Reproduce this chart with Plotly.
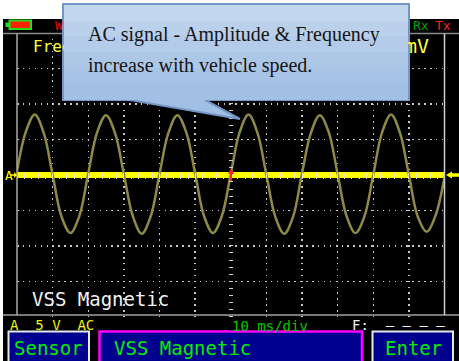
import plotly.graph_objects as go

# ---------------- data ----------------
time_ms = [0, 2.5, 5, 7.5, 10, 12.5, 15, 17.5,
           20, 22.5, 25, 27.5, 30, 32.5, 35, 37.5,
           40, 42.5, 45, 47.5, 50, 52.5, 55, 57.5,
           60, 62.5, 65, 67.5, 70, 72.5, 75, 77.5,
           80, 82.5, 85, 87.5, 90, 92.5, 95, 97.5,
           100, 102.5, 105, 107.5, 110, 112.5, 115, 117.5, 120]
volts = [0.5, 6.1, 8.5, 5.9, 0.0, -5.9, -8.2, -5.8,
         0.2, 6.0, 8.4, 5.9, 0.1, -5.8, -8.3, -5.9,
         0.1, 5.9, 8.4, 6.0, 0.2, -5.8, -8.2, -5.8,
         0.1, 6.0, 8.5, 5.9, 0.0, -5.9, -8.3, -5.9,
         0.2, 5.9, 8.4, 6.0, 0.1, -5.8, -8.2, -5.9,
         0.0, 6.0, 8.5, 5.9, 0.0, -5.9, -8.0, -5.7, -0.3]

time_grid = [10, 20, 30, 40, 50, 70, 80, 90, 100, 110]   # ms (10 ms/div)
volt_grid = [-15, -10, -5, 5, 10, 15]                    # V  (5 V/div)

callout_lines = ["AC signal - Amplitude & Frequency", "increase with vehicle speed."]
status_range = "A  5 V  AC"
status_time = "10 ms/div"
status_freq = "F:  – – – –"
trace_label = "VSS Magnetic"
buttons = ["Sensor", "VSS Magnetic", "Enter"]

# ---------------- layout helpers ----------------
W, H = 459, 361
def fx(x): return x / W
def fy(y): return 1 - y / H
def path(points):
    s = "M" + " L".join(f"{fx(x):.5f},{fy(y):.5f}" for x, y in points) + " Z"
    return s

MONO = "DejaVu Sans Mono"
SERIF = "Liberation Serif"

fig = go.Figure()
fig.add_trace(go.Scatter(x=time_ms, y=volts, mode="lines",
                         line=dict(color="#8e8a46", width=2.5, shape="spline", smoothing=1.0),
                         showlegend=False, hoverinfo="skip"))
fig.add_trace(go.Scatter(x=[None], y=[None], xaxis="x2", yaxis="y2",
                         showlegend=False, hoverinfo="skip"))

shapes = []
def rect(x0, y0, x1, y1, fill, line=None, lw=0, layer="below"):
    shapes.append(dict(type="rect", xref="paper", yref="paper",
                       x0=fx(x0), x1=fx(x1), y0=fy(y1), y1=fy(y0),
                       fillcolor=fill, line=dict(color=line or fill, width=lw), layer=layer))
def hline(y, x0, x1, color, w):
    shapes.append(dict(type="line", xref="paper", yref="paper", x0=fx(x0), x1=fx(x1),
                       y0=fy(y), y1=fy(y), line=dict(color=color, width=w), layer="above"))
def vline(x, y0, y1, color, w):
    shapes.append(dict(type="line", xref="paper", yref="paper", x0=fx(x), x1=fx(x),
                       y0=fy(y0), y1=fy(y1), line=dict(color=color, width=w), layer="above"))

# scope black body
rect(3, 19, 459, 361, "#000000")
# frame lines
hline(33.5, 3, 459, "#8c8c8c", 1.5)
hline(315, 3, 459, "#a0a0a0", 1.5)
vline(17, 33.5, 315, "#a8a8a8", 1.5)
vline(444.5, 33.5, 315, "#cfcfcf", 1.5)
# battery icon
rect(5.5, 22.5, 9.5, 27, "#22dd22", layer="above")
rect(9.5, 20.5, 31, 29, "#ff2200", "#22dd22", 2, layer="above")
# trigger marker (red up arrow) and right level marker
shapes.append(dict(type="path", xref="paper", yref="paper", layer="above",
                   path=path([(228, 174), (231, 168.5), (234, 174), (232, 174), (232, 181), (230, 181), (230, 174)]),
                   fillcolor="#ff2020", line=dict(width=0)))
shapes.append(dict(type="path", xref="paper", yref="paper", layer="above",
                   path=path([(446, 175), (452, 171.5), (452, 173.2), (459, 173.2), (459, 176.8), (452, 176.8), (452, 178.5)]),
                   fillcolor="#ffff00", line=dict(width=0)))
# left level marker arrow (after the "A")
shapes.append(dict(type="path", xref="paper", yref="paper", layer="above",
                   path=path([(10.5, 174.2), (14, 174.2), (14, 172), (17, 175), (14, 178), (14, 175.8), (10.5, 175.8)]),
                   fillcolor="#ffff00", line=dict(width=0)))
# buttons
rect(8.5, 331.5, 89, 366, "#00008f", "#e8e8e8", 2, layer="above")
rect(99.5, 331.5, 362, 366, "#00008f", "#ff00ff", 2.5, layer="above")
rect(372.5, 331.5, 453, 366, "#00008f", "#e8e8e8", 2, layer="above")
# callout outline with pointer
shapes.append(dict(type="path", xref="paper", yref="paper", layer="above",
                   path=path([(63, 4), (409, 4), (409, 100), (205, 100), (240, 119), (130, 100), (63, 100)]),
                   fillcolor="#a2c0e3", line=dict(color="#7497c6", width=2)))

annotations = []
def txt(text, x, y, size, color, xanchor="left", family=MONO):
    annotations.append(dict(text=text, xref="paper", yref="paper", x=fx(x), y=fy(y),
                            xanchor=xanchor, yanchor="middle", showarrow=False,
                            font=dict(family=family, size=size, color=color)))

# texts that sit under the callout
txt("W", 53, 25, 13, "#e01010")
txt("Rx", 411, 25.5, 13, "#00a000")
txt("Tx", 432.5, 25.5, 13, "#ff2020")
txt("Freq", 31, 46, 16, "#ffff40")
txt("mV", 431, 45.5, 20, "#ffff40", xanchor="right")

# callout body as gradient bands (covers the texts beneath)
band_cols = ["#c2d6ee", "#bbd1eb", "#b4cce9", "#adc7e7", "#a7c3e5", "#a2c0e3"]
top, bot = 5.2, 98.8
bh = (bot - top) / len(band_cols)
for i, c in enumerate(band_cols):
    annotations.append(dict(text=" ", xref="paper", yref="paper",
                            x=fx(64.2), y=fy(top + i * bh), xanchor="left", yanchor="top",
                            width=407.8 - 64.2, height=bh + 1, bgcolor=c,
                            borderwidth=0, borderpad=0, showarrow=False))
txt(callout_lines[0], 85.5, 35, 20, "#151515", family=SERIF)
txt(callout_lines[1], 85.5, 65.5, 20, "#151515", family=SERIF)

# scope texts
txt("A", 2.5, 175, 13, "#ffff00")
txt(trace_label, 30, 299, 19, "#f2f2f2")
txt(status_range, 7.5, 325, 14, "#f0f000")
txt(status_time, 229.5, 325.5, 14, "#00c800")
txt(status_freq, 349.5, 325, 14, "#f0f0f0")
txt(buttons[0], 48.5, 348, 19, "#00ee00", xanchor="center")
txt(buttons[1], 112, 348, 19, "#00ee00")
txt(buttons[2], 413, 347.5, 19, "#00ee00", xanchor="center")

fig.update_layout(
    width=W, height=H, autosize=False,
    margin=dict(l=0, r=0, t=0, b=0, pad=0),
    paper_bgcolor="#ffffff", plot_bgcolor="#000000",
    showlegend=False,
    xaxis=dict(domain=[fx(17), fx(444.5)], range=[0, 120], tickvals=time_grid,
               showticklabels=False, ticks="", showline=False, zeroline=False,
               showgrid=True, gridcolor="#c8c8c8", gridwidth=1.5, griddash="1.5px,4.4px",
               fixedrange=True),
    yaxis=dict(domain=[fy(316.8), fy(32.8)], range=[-20, 20], tickvals=volt_grid,
               showticklabels=False, ticks="", showline=False,
               zeroline=True, zerolinecolor="#ffff00", zerolinewidth=6,
               showgrid=True, gridcolor="#c8c8c8", gridwidth=1.5, griddash="1.5px,4.4px",
               fixedrange=True),
    xaxis2=dict(overlaying="x", anchor="free", position=fy(171.8), range=[0, 120],
                tickmode="linear", tick0=0, dtick=2, ticks="outside", ticklen=6,
                tickwidth=1, tickcolor="#e2e2c0", showticklabels=False,
                showgrid=False, zeroline=False, showline=False, fixedrange=True),
    yaxis2=dict(overlaying="y", anchor="free", position=fx(233), range=[-20, 20],
                tickmode="linear", tick0=0, dtick=1, ticks="outside", ticklen=4,
                tickwidth=1, tickcolor="#d0d0d0", showticklabels=False,
                showgrid=False, zeroline=False, showline=False, fixedrange=True),
    shapes=shapes,
    annotations=annotations,
)

fig.write_html("out.html", config={"displayModeBar": False, "staticPlot": True},
               post_script="document.body.style.margin='0';document.body.style.overflow='hidden';")
